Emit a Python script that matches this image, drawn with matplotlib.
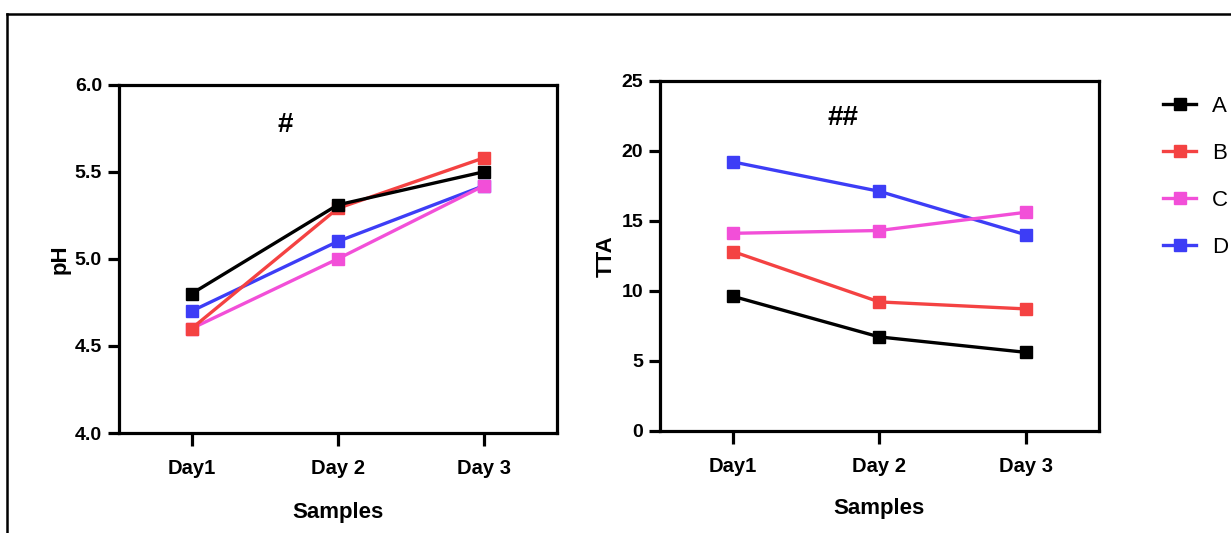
import numpy as np
import matplotlib
matplotlib.use("Agg")
import matplotlib.pyplot as plt
from matplotlib.lines import Line2D

plt.rcParams['font.family'] = ['Liberation Sans', 'DejaVu Sans']

days = ["Day1", "Day 2", "Day 3"]
groups = ["A", "B", "C", "D"]
colors = ["#000000", "#F44242", "#F24FD8", "#3D3DF6"]

ph_A = [4.80, 5.31, 5.50]
ph_B = [4.60, 5.29, 5.58]
ph_C = [4.60, 5.00, 5.42]
ph_D = [4.70, 5.10, 5.42]

tta_A = [9.6, 6.7, 5.6]
tta_B = [12.8, 9.2, 8.7]
tta_C = [14.1, 14.3, 15.6]
tta_D = [19.2, 17.1, 14.0]

ph_ticks = [4.0, 4.5, 5.0, 5.5, 6.0]
tta_ticks = [0, 5, 10, 15, 20, 25]

fig = plt.figure(figsize=(12.31, 5.33), dpi=100)
ax1 = fig.add_axes([0.0963, 0.1876, 0.3562, 0.6535])
ax2 = fig.add_axes([0.5359, 0.1919, 0.3567, 0.6567])

x = np.arange(len(days))


def style(ax, ticks, fmt, ylabel, xpad):
    for s in ax.spines.values():
        s.set_linewidth(2.3)
    ax.set_xlim(-0.5, 2.5)
    ax.set_ylim(ticks[0], ticks[-1])
    ax.set_xticks(x)
    ax.set_xticklabels(days, fontsize=14.5, fontweight='bold')
    ax.set_yticks(ticks)
    ax.set_yticklabels([fmt.format(t) for t in ticks], fontsize=14, fontweight='bold')
    ax.tick_params(axis='x', length=9, width=2.3, pad=10)
    ax.tick_params(axis='y', length=8, width=2.3, pad=4)
    ax.set_xlabel("Samples", fontsize=16, fontweight='bold', labelpad=xpad)
    ax.set_ylabel(ylabel, fontsize=16, fontweight='bold', labelpad=3)


ph_series = [ph_A, ph_B, ph_C, ph_D]
tta_series = [tta_A, tta_B, tta_C, tta_D]

# draw D first so A ends up on top, like the original
for i in [3, 2, 1, 0]:
    ax1.plot(x, ph_series[i], color=colors[i], lw=2.4, marker='s', ms=9,
             mec=colors[i], clip_on=False)
    ax2.plot(x, tta_series[i], color=colors[i], lw=2.4, marker='s', ms=9,
             mec=colors[i], clip_on=False)

style(ax1, ph_ticks, "{:.1f}", "pH", 17)
style(ax2, tta_ticks, "{:d}", "TTA", 16)

ax1.text(0.64, 5.77, "#", ha='center', va='center', fontsize=20, fontweight='bold')
ax2.text(0.75, 22.3, "##", ha='center', va='center', fontsize=20, fontweight='bold')

handles = [Line2D([], [], color=c, lw=2.4, marker='s', ms=9, mec=c) for c in colors]
fig.legend(handles, groups, loc='upper left', bbox_to_anchor=(1163 / 1231, 1 - 96 / 533),
           frameon=False, fontsize=16, handlelength=1.5, handletextpad=0.7,
           labelspacing=1.17, borderpad=0, borderaxespad=0)

# outer frame, cut by the right and bottom edges
fig.add_artist(Line2D([7 / 1231, 7 / 1231], [0, 1 - 14 / 533], color='black', lw=1.8,
                      transform=fig.transFigure))
fig.add_artist(Line2D([7 / 1231, 1], [1 - 14 / 533, 1 - 14 / 533], color='black', lw=1.8,
                      transform=fig.transFigure))

fig.savefig("out.png", dpi=100)
